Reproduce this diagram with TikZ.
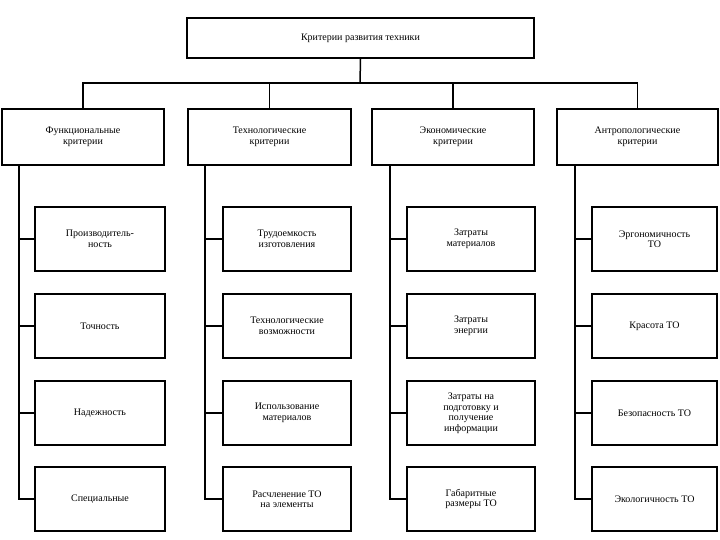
\documentclass[tikz,border=0pt]{standalone}
\usepackage{fontspec}
\setmainfont{Liberation Serif}
\begin{document}
\begin{tikzpicture}[x=1pt,y=-1pt,
  box/.style={draw, line width=2pt, align=center, inner sep=2pt,
    font=\fontsize{10}{10.5}\selectfont},
  hbox/.style={box, minimum height=56pt},
  cbox/.style={box, minimum height=64pt},
  conn/.style={line width=1.5pt}]
\useasboundingbox[fill=white] (0,0) rectangle (720,540);

\node[box, minimum width=347pt, minimum height=40pt] (top) at (360.5,38) {Критерии развития техники};

\node[hbox, minimum width=162pt] (h1) at (83,137) {Функциональные\\критерии};
\node[hbox, minimum width=163pt] (h2) at (269.5,137) {Технологические\\критерии};
\node[hbox, minimum width=162pt] (h3) at (453,137) {Экономические\\критерии};
\node[hbox, minimum width=161pt] (h4) at (637.5,137) {Антропологические\\критерии};

% column 1
\node[cbox, minimum width=130pt] (c11) at (100,239) {Производитель-\\ность};
\node[cbox, minimum width=130pt] (c12) at (100,326) {Точность};
\node[cbox, minimum width=130pt] (c13) at (100,413) {Надежность};
\node[cbox, minimum width=130pt] (c14) at (100,499) {Специальные};
% column 2
\node[cbox, minimum width=128pt] (c21) at (287,239) {Трудоемкость\\изготовления};
\node[cbox, minimum width=128pt] (c22) at (287,326) {Технологические\\возможности};
\node[cbox, minimum width=128pt] (c23) at (287,413) {Использование\\материалов};
\node[cbox, minimum width=128pt] (c24) at (287,499) {Расчленение ТО\\на элементы};
% column 3
\node[cbox, minimum width=128pt] (c31) at (471,239) {Затраты\\материалов};
\node[cbox, minimum width=128pt] (c32) at (471,326) {Затраты\\энергии};
\node[cbox, minimum width=128pt] (c33) at (471,413) {Затраты на\\подготовку и\\получение\\информации};
\node[cbox, minimum width=128pt] (c34) at (471,499) {Габаритные\\размеры ТО};
% column 4
\node[cbox, minimum width=125pt] (c41) at (654.5,239) {Эргономичность\\ТО};
\node[cbox, minimum width=125pt] (c42) at (654.5,326) {Красота ТО};
\node[cbox, minimum width=125pt] (c43) at (654.5,413) {Безопасность ТО};
\node[cbox, minimum width=125pt] (c44) at (654.5,499) {Экологичность ТО};

% bus
\coordinate (bus) at (360,83);
\draw[conn] (top.south) -- (bus);
\draw[conn] (h1.north) |- (bus) -| (h4.north);
\draw[conn] (h2.north) -- (h2.north |- bus);
\draw[conn] (h3.north) -- (h3.north |- bus);

% trunks
\coordinate (t1) at (19,165);
\coordinate (t2) at (205,165);
\coordinate (t3) at (390,165);
\coordinate (t4) at (575,165);
\foreach \c in {1,2,3,4}{
  \draw[conn] (h\c.south -| t\c) |- (c\c4.west);
  \foreach \r in {1,2,3}{
    \draw[conn] (t\c |- c\c\r.west) -- (c\c\r.west);
  }
}
\end{tikzpicture}
\end{document}
